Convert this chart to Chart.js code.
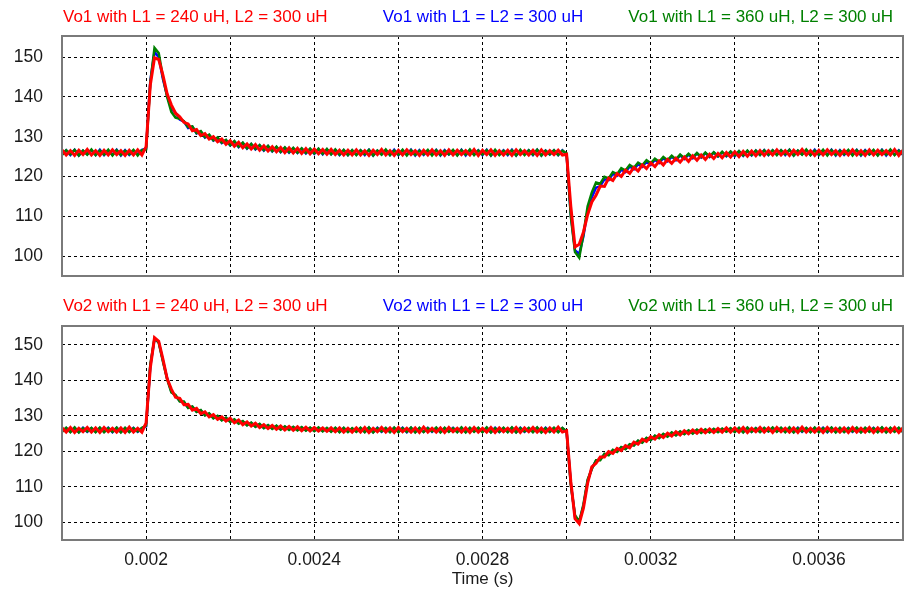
<!DOCTYPE html>
<html>
<head>
<meta charset="utf-8">
<script src="https://cdn.jsdelivr.net/npm/chart.js@4.4.0/dist/chart.umd.min.js"></script>
<style>
  html, body { margin: 0; padding: 0; background: #fff; }
  body { width: 905px; height: 595px; position: relative; overflow: hidden;
         font-family: "Liberation Sans", Arial, sans-serif; }
  canvas { position: absolute; left: 0; }
  .lbl { position: absolute; font-size: 17px; line-height: 20px; white-space: nowrap; }
  .mid { left: 0; width: 966px; text-align: center; }
  .red { color: #ff0000; }
  .blue { color: #0000ff; }
  .green { color: #008000; }
</style>
</head>
<body>
<canvas id="chartTop" width="905" height="306" style="top:0"></canvas>
<canvas id="chartBottom" width="905" height="305" style="top:290px"></canvas>

<div class="lbl red" style="left:63px; top:7px">Vo1 with L1 = 240 uH, L2 = 300 uH</div>
<div class="lbl blue mid" style="top:7px">Vo1 with L1 = L2 = 300 uH</div>
<div class="lbl green" style="right:12px; top:7px">Vo1 with L1 = 360 uH, L2 = 300 uH</div>
<div class="lbl red" style="left:63px; top:296px">Vo2 with L1 = 240 uH, L2 = 300 uH</div>
<div class="lbl blue mid" style="top:296px">Vo2 with L1 = L2 = 300 uH</div>
<div class="lbl green" style="right:12px; top:296px">Vo2 with L1 = 360 uH, L2 = 300 uH</div>

<script>
// ---------------------------------------------------------------------------
// Data, one sample every 10 us from 1.8 ms
// ---------------------------------------------------------------------------

var T_START = 0.0018;
var T_STEP = 0.00001;

var xGridTicks = [0.002, 0.0022, 0.0024, 0.0026, 0.0028, 0.003, 0.0032, 0.0034, 0.0036];
var xTickLabels = ['0.002', '0.0024', '0.0028', '0.0032', '0.0036'];
var yTicks = [100, 110, 120, 130, 140, 150];

// Vo1, L1 = 240 uH, L2 = 300 uH
var vo1Red = [
  126.7,125.4,126.5,125.3,126.6,125.5,126.8,125.4,126.5,125.3,
  126.6,125.4,126.7,125.5,126.5,125.3,126.6,125.4,126.7,125.4,
  127.5,143.0,149.8,149.4,145.5,140.8,138.0,135.9,135.0,133.6,
  133.2,131.5,131.8,130.3,130.8,129.4,130.0,128.7,129.4,128.1,
  129.0,127.6,128.6,127.2,128.2,126.9,128.0,126.6,127.7,126.4,
  127.5,126.2,127.3,126.0,127.2,125.9,127.1,125.8,127.0,125.7,
  126.9,125.7,126.8,125.6,126.8,125.5,126.6,125.4,126.6,125.4,
  126.7,125.4,126.5,125.3,126.6,125.5,126.8,125.4,126.5,125.3,
  126.6,125.4,126.7,125.5,126.5,125.3,126.6,125.4,126.7,125.4,
  126.5,125.3,126.7,125.4,126.6,125.5,126.5,125.4,126.8,125.3,
  126.6,125.5,126.7,125.3,126.5,125.4,126.6,125.3,126.7,125.5,
  126.5,125.4,126.6,125.3,126.7,125.4,126.5,125.5,126.6,125.4,
  125.6,112.5,102.3,103.0,106.0,110.4,113.6,115.3,117.6,117.5,
  119.6,119.0,120.7,120.0,121.6,120.8,122.3,121.4,122.9,122.0,
  123.4,122.5,123.9,122.9,124.3,123.3,124.6,123.6,124.9,123.8,
  125.2,124.1,125.4,124.3,125.6,124.5,125.8,124.7,126.0,124.9,
  126.2,125.0,126.3,125.1,126.4,125.2,126.5,125.3,126.5,125.4,
  126.7,125.4,126.5,125.3,126.6,125.5,126.8,125.4,126.5,125.3,
  126.6,125.4,126.7,125.5,126.5,125.3,126.6,125.4,126.7,125.4,
  126.5,125.3,126.7,125.4,126.6,125.5,126.5,125.4,126.8,125.3,126.6
];

// Vo1, L1 = L2 = 300 uH
var vo1Blue = [
  125.5,126.6,125.4,126.7,125.3,126.5,125.6,126.6,125.4,126.7,
  125.4,126.5,125.5,126.7,125.3,126.6,125.4,126.5,125.6,126.7,
  127.0,144.0,151.3,150.0,144.5,140.3,137.0,136.0,134.3,133.8,
  132.2,132.5,130.8,131.3,129.8,130.4,129.0,129.7,128.4,129.1,
  127.8,128.8,127.4,128.4,127.0,128.1,126.8,127.8,126.5,127.6,
  126.3,127.4,126.1,127.2,126.0,127.1,125.9,127.0,125.8,126.9,
  125.7,126.9,125.6,126.8,125.6,126.7,125.4,126.6,125.4,126.6,
  125.5,126.6,125.4,126.7,125.3,126.5,125.6,126.6,125.4,126.7,
  125.4,126.5,125.5,126.7,125.3,126.6,125.4,126.5,125.6,126.7,
  125.3,126.6,125.5,126.5,125.4,126.7,125.3,126.6,125.5,126.6,
  125.4,126.7,125.3,126.5,125.5,126.6,125.4,126.7,125.3,126.5,
  125.6,126.6,125.4,126.7,125.3,126.5,125.5,126.6,125.4,126.6,
  125.5,110.5,101.5,100.5,105.0,111.5,114.8,117.2,117.6,119.3,
  119.1,120.7,120.2,121.7,121.1,122.5,121.8,123.1,122.4,123.7,
  122.9,124.2,123.4,124.6,123.8,125.0,124.1,125.3,124.4,125.5,
  124.6,125.8,124.8,125.9,124.9,126.0,125.0,126.1,125.1,126.2,
  125.1,126.3,125.2,126.4,125.3,126.5,125.4,126.6,125.4,126.6,
  125.5,126.6,125.4,126.7,125.3,126.5,125.6,126.6,125.4,126.7,
  125.4,126.5,125.5,126.7,125.3,126.6,125.4,126.5,125.6,126.7,
  125.3,126.6,125.5,126.5,125.4,126.7,125.3,126.6,125.5,126.6,125.4
];

// Vo1, L1 = 360 uH, L2 = 300 uH
var vo1Green = [
  125.4,126.6,125.6,126.7,125.3,126.5,125.5,126.8,125.4,126.5,
  125.5,126.7,125.3,126.6,125.4,126.5,125.6,126.7,125.3,126.6,
  126.8,143.5,152.3,151.0,145.0,140.0,136.2,134.8,134.5,133.9,
  132.4,132.6,130.9,131.4,129.9,130.5,129.1,129.8,128.5,129.2,
  127.9,128.9,127.5,128.5,127.1,128.2,126.9,127.9,126.6,127.7,
  126.4,127.5,126.2,127.3,126.1,127.2,126.0,127.1,125.9,127.0,
  125.8,127.0,125.7,126.9,125.6,126.8,125.5,126.7,125.4,126.6,
  125.4,126.6,125.6,126.7,125.3,126.5,125.5,126.8,125.4,126.5,
  125.5,126.7,125.3,126.6,125.4,126.5,125.6,126.7,125.3,126.6,
  125.4,126.5,125.6,126.7,125.3,126.6,125.5,126.8,125.4,126.5,
  125.5,126.6,125.3,126.7,125.4,126.5,125.6,126.6,125.3,126.7,
  125.4,126.6,125.5,126.7,125.3,126.5,125.6,126.6,125.4,126.5,
  125.8,110.0,101.0,99.6,105.5,112.5,116.0,118.5,118.2,119.9,
  119.5,121.1,120.6,122.1,121.5,122.9,122.2,123.5,122.8,124.1,
  123.3,124.5,123.7,124.9,124.1,125.2,124.3,125.5,124.6,125.7,
  124.8,125.9,124.9,126.0,125.0,126.1,125.1,126.2,125.2,126.3,
  125.3,126.4,125.3,126.5,125.4,126.5,125.4,126.6,125.5,126.6,
  125.4,126.6,125.6,126.7,125.3,126.5,125.5,126.8,125.4,126.5,
  125.5,126.7,125.3,126.6,125.4,126.5,125.6,126.7,125.3,126.6,
  125.4,126.5,125.6,126.7,125.3,126.6,125.5,126.8,125.4,126.5,125.6
];

// Vo2, L1 = 240 uH, L2 = 300 uH
var vo2Red = [
  126.6,125.4,126.7,125.3,126.5,125.5,126.7,125.4,126.6,125.3,
  126.7,125.5,126.5,125.4,126.6,125.3,126.8,125.4,126.5,125.4,
  128.0,143.5,152.0,151.0,146.0,140.5,137.5,135.2,134.9,133.1,
  133.2,131.6,132.1,130.6,131.1,129.7,130.3,129.0,129.7,128.5,
  129.3,128.0,128.8,127.5,128.3,127.1,127.9,126.7,127.5,126.4,
  127.3,126.2,127.1,126.0,127.0,125.9,126.9,125.8,126.8,125.7,
  126.7,125.7,126.6,125.6,126.6,125.5,126.6,125.4,126.5,125.4,
  126.6,125.4,126.7,125.3,126.5,125.5,126.7,125.4,126.6,125.3,
  126.7,125.5,126.5,125.4,126.6,125.3,126.8,125.4,126.5,125.4,
  126.6,125.3,126.7,125.5,126.5,125.4,126.6,125.3,126.7,125.4,
  126.5,125.4,126.7,125.3,126.6,125.5,126.5,125.4,126.7,125.3,
  126.6,125.5,126.7,125.4,126.5,125.3,126.6,125.4,126.8,125.4,
  125.8,111.5,101.0,99.6,104.0,111.0,115.6,116.6,118.4,118.4,
  119.9,119.4,120.8,120.2,121.6,121.0,122.6,122.0,123.4,122.8,
  124.1,123.4,124.7,123.9,125.1,124.3,125.5,124.6,125.8,124.9,
  126.0,125.1,126.2,125.2,126.3,125.3,126.4,125.4,126.6,125.4,
  126.6,125.4,126.7,125.3,126.5,125.5,126.7,125.4,126.6,125.3,
  126.7,125.5,126.5,125.4,126.6,125.3,126.8,125.4,126.5,125.4,
  126.6,125.3,126.7,125.5,126.5,125.4,126.6,125.3,126.7,125.4,
  126.5,125.4,126.7,125.3,126.6,125.5,126.5,125.4,126.7,125.3,126.6
];

// Vo2, L1 = L2 = 300 uH
var vo2Blue = [
  125.6,126.5,125.5,126.6,125.4,126.6,125.5,126.5,125.5,126.6,
  125.5,126.6,125.4,126.6,125.4,126.5,125.5,126.6,125.5,126.5,
  127.0,144.0,151.6,150.8,145.6,140.6,136.9,135.6,134.2,133.8,
  132.3,132.5,131.2,131.5,130.2,130.6,129.4,129.9,128.8,129.4,
  128.4,128.9,127.9,128.4,127.4,128.0,127.0,127.6,126.6,127.3,
  126.4,127.1,126.2,126.9,126.1,126.8,126.0,126.7,125.9,126.6,
  125.8,126.6,125.7,126.5,125.6,126.5,125.5,126.5,125.5,126.4,
  125.6,126.5,125.5,126.6,125.4,126.6,125.5,126.5,125.5,126.6,
  125.5,126.6,125.4,126.6,125.4,126.5,125.5,126.6,125.5,126.5,
  125.4,126.5,125.6,126.6,125.5,126.6,125.4,126.5,125.6,126.5,
  125.5,126.6,125.4,126.6,125.4,126.5,125.5,126.6,125.4,126.6,
  125.5,126.5,125.5,126.6,125.4,126.6,125.5,126.5,125.5,126.5,
  125.5,111.0,101.5,100.0,104.6,111.6,115.2,117.3,117.8,119.1,
  119.0,120.3,119.9,121.1,120.7,121.9,121.7,122.9,122.5,123.7,
  123.2,124.3,123.8,124.8,124.2,125.2,124.6,125.5,124.9,125.8,
  125.1,126.0,125.3,126.1,125.4,126.2,125.5,126.3,125.6,126.4,
  125.5,126.5,125.4,126.6,125.5,126.5,125.5,126.5,125.6,126.6,
  125.6,126.5,125.5,126.6,125.4,126.6,125.5,126.5,125.5,126.6,
  125.5,126.6,125.4,126.6,125.4,126.5,125.5,126.6,125.5,126.5,
  125.4,126.5,125.6,126.6,125.5,126.6,125.4,126.5,125.6,126.5,125.5
];

// Vo2, L1 = 360 uH, L2 = 300 uH
var vo2Green = [
  125.5,126.6,125.4,126.7,125.3,126.5,125.6,126.6,125.4,126.7,
  125.4,126.5,125.5,126.7,125.3,126.6,125.4,126.5,125.6,126.6,
  127.2,144.5,151.8,150.6,145.3,140.3,136.6,135.9,134.0,134.0,
  132.2,132.6,131.1,131.6,130.1,130.7,129.3,130.0,128.7,129.5,
  128.3,129.0,127.8,128.5,127.3,128.1,126.9,127.7,126.5,127.4,
  126.3,127.2,126.1,127.0,126.0,126.9,125.9,126.8,125.8,126.7,
  125.7,126.7,125.6,126.6,125.5,126.6,125.4,126.6,125.4,126.5,
  125.5,126.6,125.4,126.7,125.3,126.5,125.6,126.6,125.4,126.7,
  125.4,126.5,125.5,126.7,125.3,126.6,125.4,126.5,125.6,126.7,
  125.3,126.6,125.5,126.5,125.4,126.7,125.3,126.6,125.5,126.6,
  125.4,126.7,125.3,126.5,125.5,126.6,125.4,126.7,125.3,126.5,
  125.6,126.6,125.4,126.7,125.3,126.5,125.5,126.6,125.4,126.6,
  125.6,110.5,102.0,100.2,105.0,112.0,115.0,117.5,117.5,119.3,
  118.9,120.4,119.8,121.2,120.6,122.0,121.6,123.0,122.4,123.8,
  123.1,124.4,123.7,124.9,124.1,125.3,124.5,125.6,124.8,125.9,
  125.0,126.1,125.2,126.2,125.3,126.3,125.4,126.4,125.5,126.5,
  125.4,126.6,125.3,126.7,125.5,126.5,125.4,126.6,125.6,126.7,
  125.5,126.6,125.4,126.7,125.3,126.5,125.6,126.6,125.4,126.7,
  125.4,126.5,125.5,126.7,125.3,126.6,125.4,126.5,125.6,126.7,
  125.3,126.6,125.5,126.5,125.4,126.7,125.3,126.6,125.5,126.6,125.4
];

// ---------------------------------------------------------------------------
// Helpers
// ---------------------------------------------------------------------------

var FONT = '"Liberation Sans", Arial, sans-serif';

function toPoints(values) {
  return values.map(function (v, i) {
    return { x: T_START + i * T_STEP, y: v };
  });
}

function line(values, color, width) {
  return {
    data: toPoints(values),
    borderColor: color,
    borderWidth: width,
    pointRadius: 0,
    tension: 0,
    fill: false,
  };
}

// Grey frame round the plot area
var framePlugin = {
  id: 'frame',
  afterDraw: function (chart) {
    var a = chart.chartArea;
    var ctx = chart.ctx;
    ctx.save();
    ctx.strokeStyle = '#7a7a7a';
    ctx.lineWidth = 2;
    ctx.strokeRect(a.left, a.top, a.right - a.left, a.bottom - a.top);
    ctx.restore();
  },
};

// plotBottom: wanted bottom edge of the plot area, in canvas pixels
function makeChart(canvasId, red, blue, green, showX, plotBottom) {
  var canvas = document.getElementById(canvasId);
  var axisHeight = canvas.height - plotBottom;
  return new Chart(canvas, {
    type: 'line',
    data: {
      datasets: [
        line(red, '#ff0000', 3),
        line(green, '#008000', 2.5),
        line(blue, '#0000ff', 2.5),
      ],
    },
    plugins: [framePlugin],
    options: {
      responsive: false,
      animation: false,
      events: [],
      layout: { padding: { top: 36, right: 2, left: 0, bottom: 0 } },
      plugins: { legend: { display: false }, tooltip: { enabled: false } },
      scales: {
        x: {
          type: 'linear',
          min: 0.0018,
          max: 0.0038,
          afterBuildTicks: function (scale) {
            scale.ticks = xGridTicks.map(function (v) { return { value: v }; });
          },
          afterFit: function (scale) { scale.height = axisHeight; },
          grid: { color: '#000', lineWidth: 1, drawTicks: false },
          border: { display: false, dash: [3, 3] },
          ticks: {
            padding: 10,
            maxRotation: 0,
            autoSkip: false,
            color: showX ? '#1a1a1a' : 'rgba(0,0,0,0)',
            font: { family: FONT, size: 17.5 },
            callback: function (v) {
              var s = String(Math.round(v * 10000) / 10000);
              return showX && xTickLabels.indexOf(s) >= 0 ? s : '';
            },
          },
          title: {
            display: showX,
            text: 'Time (s)',
            color: '#1a1a1a',
            font: { family: FONT, size: 17 },
            padding: { top: 0, bottom: 5 },
          },
        },
        y: {
          min: 95,
          max: 155.3,
          afterBuildTicks: function (scale) {
            scale.ticks = yTicks.map(function (v) { return { value: v }; });
          },
          afterFit: function (scale) { scale.width = 62; },
          grid: { color: '#000', lineWidth: 1, drawTicks: false },
          border: { display: false, dash: [3, 3] },
          ticks: {
            padding: 19,
            color: '#1a1a1a',
            font: { family: FONT, size: 17.5 },
          },
        },
      },
    },
  });
}

makeChart('chartTop', vo1Red, vo1Blue, vo1Green, false, 276);
makeChart('chartBottom', vo2Red, vo2Blue, vo2Green, true, 250);
</script>
</body>
</html>
